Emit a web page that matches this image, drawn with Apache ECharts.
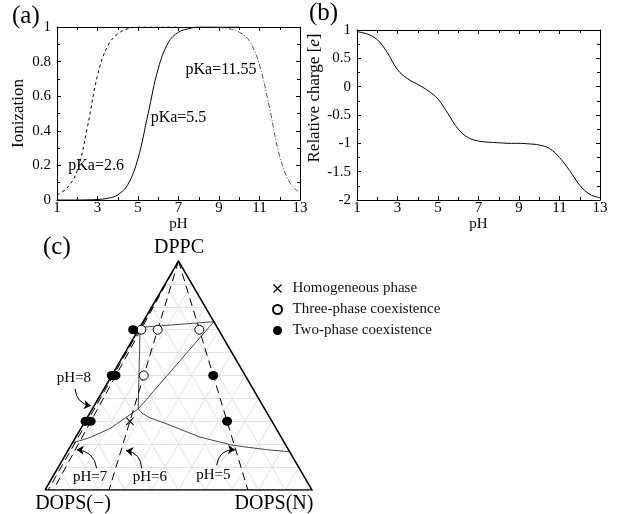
<!DOCTYPE html>
<html>
<head>
<meta charset="utf-8">
<script src="https://cdn.jsdelivr.net/npm/echarts@6/dist/echarts.min.js"></script>
<style>
html,body{margin:0;padding:0;background:#fff;}
#chart{width:618px;height:514px;}
</style>
</head>
<body>
<div id="chart"></div>
<script>
// ---------- Panel (a) & (b) data ----------
const pH = [1,1.5,2,2.5,3,3.5,4,4.5,5,5.5,6,6.5,7,7.5,8,8.5,9,9.5,10,10.5,11,11.5,12,12.5,13];
const ionPka26 = [0.03,0.07,0.17,0.42,0.72,0.89,0.96,0.99,1,1,1,1,1,null,null,null,null,null,null,null,null,null,null,null,null];
const ionPka55 = [0,0,0,0.001,0.003,0.01,0.03,0.09,0.24,0.5,0.76,0.91,0.97,0.99,1,1,1,1,1,null,null,null,null,null,null];
const ionPka1155 = [null,null,null,null,null,null,null,null,null,null,null,null,null,null,1,1,0.997,0.99,0.97,0.92,0.78,0.53,0.25,0.1,0.04];
const charge = [0.97,0.93,0.83,0.6,0.3,0.14,0.04,-0.07,-0.22,-0.48,-0.75,-0.9,-0.96,-0.98,-0.99,-1.0,-1.0,-1.01,-1.03,-1.09,-1.25,-1.48,-1.74,-1.9,-1.96];
const pkaLabels = [[9.1,0.75,'pKa=11.55'],[7.0,0.474,'pKa=5.5'],[2.93,0.2,'pKa=2.6']];

// ---------- Panel (c) ternary data: [DPPC, DOPS(N)] ----------
const gridSteps = [0.1,0.2,0.3,0.4,0.5,0.6,0.7,0.8,0.9];
const pHNames = ['pH=8','pH=7','pH=6','pH=5'];
const pHBottomDOPSN = [0.012,0.031,0.24,0.76];
const homogeneous = [[0.3,0.168]];
const threePhase = [[0.7,0.011],[0.7,0.072],[0.7,0.228],[0.5,0.12]];
const twoPhase = [[0.7,-0.02],[0.5,0.0],[0.5,0.014],[0.3,0.002],[0.3,0.021],[0.5,0.38],[0.3,0.532]];
const tieTop = [[0.71,0.0],[0.735,0.265]];
const threeLeft = [[0.70,0.006],[0.354,0.172]];
const threeDiag = [[0.735,0.265],[0.354,0.172]];
const leftCurve = [[0.354,0.172],[0.268,0.109],[0.229,0.054],[0.205,0.0]];
const rightCurve = [[0.354,0.172],[0.332,0.202],[0.315,0.236],[0.289,0.311],[0.231,0.465],[0.195,0.607],[0.176,0.742],[0.167,0.833]];
const arrowStarts = [[0.4416,-0.108],[0.095,0.146],[0.094,0.315],[0.108,0.589]];
const arrowEnds = [[0.368,-0.012],[0.176,0.0307],[0.173,0.217],[0.176,0.6236]];
const arrowBend = [-0.4,-0.4,-0.4,0.45];
const pHLabelPos = [[0.489,-0.136],[0.0576,0.14],[0.0576,0.364],[0.065,0.598]];

const SQ3 = Math.sqrt(3)/2;
const toXY = (a, c) => [c + a/2, a*SQ3];

const FONT = 'Liberation Serif';
const chart = echarts.init(document.getElementById('chart'), null, {renderer:'canvas'});

function boxAxis(base, extra) {
  return Object.assign({
    axisLine:{show:true, onZero:false, lineStyle:{color:'#000', width:1}},
    axisTick:{show:true, inside:true, length:4, lineStyle:{color:'#000'}},
    minorTick:{show:true, splitNumber:2, length:3, lineStyle:{color:'#000'}},
    splitLine:{show:false},
    axisLabel:{color:'#000', fontSize:15, fontFamily:FONT}
  }, base, extra);
}

const gridLines = [];
gridSteps.forEach(k => {
  gridLines.push({coords:[toXY(k,0), toXY(k,1-k)]});
  gridLines.push({coords:[toXY(0,k), toXY(1-k,k)]});
  gridLines.push({coords:[toXY(0,1-k), toXY(1-k,0)]});
});
const pHLines = pHBottomDOPSN.map(r => ({coords:[toXY(1,0), toXY(0,r)]}));
const phaseLines = [tieTop, threeLeft, threeDiag, leftCurve, rightCurve].map(l => ({coords: l.map(p => toXY(p[0], p[1]))}));
const arrows = arrowStarts.map((s,i) => ({coords:[toXY(s[0],s[1]), toXY(arrowEnds[i][0],arrowEnds[i][1])], lineStyle:{curveness:arrowBend[i]}}));
const crossPath = 'path://M0,1 L1,0 L5,4 L9,0 L10,1 L6,5 L10,9 L9,10 L5,6 L1,10 L0,9 L4,5 Z';

const option = {
  animation:false,
  textStyle:{fontFamily:FONT},
  grid:[
    {left:57, top:27, width:243, height:173},
    {left:357, top:30, width:243, height:170},
    {left:45, top:261, width:267, height:229}
  ],
  xAxis:[
    boxAxis({gridIndex:0, type:'value', min:1, max:13, interval:2, position:'bottom',
      name:'pH', nameLocation:'middle', nameGap:12, nameTextStyle:{color:'#000', fontSize:15, fontFamily:FONT}},
      {axisLabel:{color:'#000', fontSize:15, fontFamily:FONT, margin:1}}),
    boxAxis({gridIndex:0, type:'value', min:1, max:13, interval:2, position:'top'}, {axisLabel:{show:false}}),
    boxAxis({gridIndex:1, type:'value', min:1, max:13, interval:2, position:'bottom',
      name:'pH', nameLocation:'middle', nameGap:12, nameTextStyle:{color:'#000', fontSize:15, fontFamily:FONT}},
      {axisLabel:{color:'#000', fontSize:15, fontFamily:FONT, margin:1}}),
    boxAxis({gridIndex:1, type:'value', min:1, max:13, interval:2, position:'top'}, {axisLabel:{show:false}}),
    {gridIndex:2, type:'value', min:0, max:1, show:false}
  ],
  yAxis:[
    boxAxis({gridIndex:0, type:'value', min:0, max:1, interval:0.2, position:'left',
      name:'Ionization', nameLocation:'middle', nameGap:30, nameTextStyle:{color:'#000', fontSize:17, fontFamily:FONT}},
      {axisLabel:{color:'#000', fontSize:15, fontFamily:FONT, margin:6}}),
    boxAxis({gridIndex:0, type:'value', min:0, max:1, interval:0.2, position:'right'}, {axisLabel:{show:false}}),
    boxAxis({gridIndex:1, type:'value', min:-2, max:1, interval:0.5, position:'left',
      name:'Relative charge [{i|e}]', nameLocation:'middle', nameGap:30,
      nameTextStyle:{color:'#000', fontSize:17, fontFamily:FONT, padding:[0,0,0,34],
        rich:{i:{fontStyle:'italic', fontSize:17, fontFamily:FONT, color:'#000'}}}},
      {axisLabel:{color:'#000', fontSize:15, fontFamily:FONT, margin:6}}),
    boxAxis({gridIndex:1, type:'value', min:-2, max:1, interval:0.5, position:'right'}, {axisLabel:{show:false}}),
    {gridIndex:2, type:'value', min:0, max:SQ3, show:false}
  ],
  legend:{
    orient:'vertical', left:267, top:276, itemWidth:20, itemHeight:9, itemGap:6,
    selectedMode:false, symbolKeepAspect:true,
    textStyle:{fontSize:15, fontFamily:FONT, color:'#111', lineHeight:15},
    data:[{name:'Homogeneous phase', icon:crossPath, itemStyle:{color:'#000', opacity:1}}, {name:'Three-phase coexistence'}, {name:'Two-phase coexistence'}]
  },
  graphic:[
    {type:'text', left:12, top:4, style:{text:'(a)', font:'25px "Liberation Serif"', fill:'#000'}},
    {type:'text', left:309, top:1, style:{text:'(b)', font:'25px "Liberation Serif"', fill:'#000'}},
    {type:'text', left:43, top:235, style:{text:'(c)', font:'25px "Liberation Serif"', fill:'#000'}},
    {type:'text', x:179, y:248, style:{text:'DPPC', font:'20px "Liberation Serif"', fill:'#000', align:'center', verticalAlign:'middle'}},
    {type:'text', x:73, y:504, style:{text:'DOPS(\u2212)', font:'20px "Liberation Serif"', fill:'#000', align:'center', verticalAlign:'middle'}},
    {type:'text', x:274, y:504, style:{text:'DOPS(N)', font:'20px "Liberation Serif"', fill:'#000', align:'center', verticalAlign:'middle'}}
  ],
  series:[
    {type:'line', xAxisIndex:0, yAxisIndex:0, data:pH.map((x,i)=>[x,ionPka26[i]]), smooth:0.4, showSymbol:false,
      lineStyle:{color:'#000', width:1, type:[3,3]}},
    {type:'line', xAxisIndex:0, yAxisIndex:0, data:pH.map((x,i)=>[x,ionPka55[i]]), smooth:0.4, showSymbol:false,
      lineStyle:{color:'#000', width:1}},
    {type:'line', xAxisIndex:0, yAxisIndex:0, data:pH.map((x,i)=>[x,ionPka1155[i]]), smooth:0.4, showSymbol:false,
      lineStyle:{color:'#444', width:0.9, type:[5,2,1,2]}},
    {type:'scatter', xAxisIndex:0, yAxisIndex:0, data:pkaLabels, symbolSize:0, silent:true,
      itemStyle:{opacity:1},
      label:{show:true, position:'inside', formatter:p=>p.data[2], color:'#000', opacity:1, fontSize:16, fontFamily:FONT}},
    {type:'line', xAxisIndex:2, yAxisIndex:2, data:pH.map((x,i)=>[x,charge[i]]), smooth:0.4, showSymbol:false,
      lineStyle:{color:'#000', width:1}},
    // ternary
    {type:'lines', coordinateSystem:'cartesian2d', xAxisIndex:4, yAxisIndex:4, data:gridLines, silent:true, z:1,
      lineStyle:{color:'#e2e2e2', width:1, opacity:1}},
    {type:'lines', coordinateSystem:'cartesian2d', xAxisIndex:4, yAxisIndex:4, data:phaseLines, polyline:true, silent:true, z:2,
      lineStyle:{color:'#333', width:0.9, opacity:1}},
    {type:'lines', coordinateSystem:'cartesian2d', xAxisIndex:4, yAxisIndex:4, data:pHLines, silent:true, z:3,
      lineStyle:{color:'#000', width:1, opacity:1, type:[8,5]}},
    {type:'lines', coordinateSystem:'cartesian2d', xAxisIndex:4, yAxisIndex:4, polyline:true, silent:true, z:4,
      data:[{coords:[toXY(0,0), toXY(0,1), toXY(1,0), toXY(0,0)]}],
      lineStyle:{color:'#000', width:1.5, opacity:1}},
    {type:'lines', coordinateSystem:'cartesian2d', xAxisIndex:4, yAxisIndex:4, data:arrows, silent:true, z:4,
      symbol:['none','arrow'], symbolSize:7,
      lineStyle:{color:'#000', width:1, opacity:1}},
    {type:'scatter', xAxisIndex:4, yAxisIndex:4, silent:true, z:5, symbolSize:0, itemStyle:{opacity:1},
      data:pHLabelPos.map((p,i)=>{const xy=toXY(p[0],p[1]); return [xy[0], xy[1], pHNames[i]];}),
      label:{show:true, position:'inside', formatter:p=>p.data[2], color:'#000', opacity:1, fontSize:15, fontFamily:FONT}},
    {name:'Homogeneous phase', type:'scatter', xAxisIndex:4, yAxisIndex:4, z:6, symbol:crossPath, symbolSize:8,
      itemStyle:{color:'#000', opacity:1}, data:homogeneous.map(p=>toXY(p[0],p[1]))},
    {name:'Three-phase coexistence', type:'scatter', xAxisIndex:4, yAxisIndex:4, z:6, symbol:'circle', symbolSize:9,
      itemStyle:{color:'#fff', borderColor:'#000', borderWidth:1, opacity:1}, data:threePhase.map(p=>toXY(p[0],p[1]))},
    {name:'Two-phase coexistence', type:'scatter', xAxisIndex:4, yAxisIndex:4, z:6, symbol:'circle', symbolSize:[10,9],
      itemStyle:{color:'#000', opacity:1}, data:twoPhase.map(p=>toXY(p[0],p[1]))}
  ]
};
chart.setOption(option);
</script>
</body>
</html>
